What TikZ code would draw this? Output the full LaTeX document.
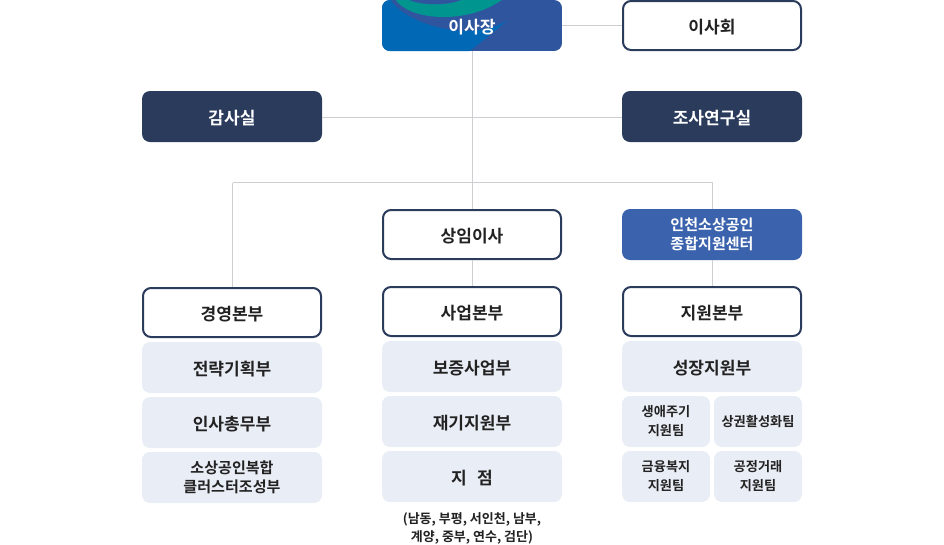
\documentclass[tikz,border=0pt]{standalone}
\usepackage{fontspec}
\setmainfont{Noto Sans CJK KR}[BoldFont={Noto Sans CJK KR Bold}]
\usetikzlibrary{positioning,calc}
\definecolor{navy}{HTML}{2A3B5C}
\definecolor{paleblue}{HTML}{E9EDF5}
\definecolor{midblue}{HTML}{3A62AD}
\definecolor{royal}{HTML}{2F559F}
\definecolor{ocean}{HTML}{0068B5}
\definecolor{teal}{HTML}{00968F}
\definecolor{wire}{HTML}{CCCED1}
\definecolor{ink}{HTML}{222222}
\newcommand{\bigfont}{\fontsize{12.8pt}{16pt}\selectfont\bfseries}
\newcommand{\midfont}{\fontsize{11.3pt}{14.3pt}\selectfont\bfseries}
\newcommand{\smallfont}{\fontsize{9.9pt}{14.2pt}\selectfont\bfseries}
\newcommand{\notefont}{\fontsize{9.75pt}{13.5pt}\selectfont\bfseries}

\begin{document}
\begin{tikzpicture}[x=0.75pt, y=-0.75pt, node distance=3pt,
        box/.style={rectangle, rounded corners=6pt, minimum height=38.25pt, minimum width=135pt, inner sep=0pt, outer sep=0pt, align=center},
        oneline/.style={box, font=\bigfont, text height=12pt, text depth=0pt},
        whitebox/.style={oneline, draw=navy, line width=1.5pt, fill=white, text=ink, minimum height=36.75pt, minimum width=133.5pt, outer sep=0.75pt},
        darkbox/.style={oneline, fill=navy, text=white},
        bluebox/.style={box, fill=midblue, text=white, font=\midfont},
        palebox/.style={oneline, fill=paleblue, text=ink},
        teambox/.style={box, fill=paleblue, text=ink, minimum width=66pt, font=\smallfont},
        wireline/.style={draw=wire, line width=0.75pt}
    ]
        \useasboundingbox (0,0) rectangle (944,544);

        % free points of the bus
        \coordinate (busleft) at (232.5,182.5);
        \coordinate (busright) at (712.5,182.5);

        % top row
        \begin{scope}
            \clip[rounded corners=6pt] (382,0) rectangle (562,51);
            \fill[royal] (382,0) rectangle (562,51);
            \fill[ocean] (382,-1) -- (390,-1) .. controls (405,24) and (470,44) .. (508,20) -- (470,51) -- (382,51) -- cycle;
            \fill[teal] (395,-1) .. controls (410,22) and (470,24) .. (503,-1) -- cycle;
            \fill[royal] (407,-1) .. controls (420,6) and (450,6) .. (463,-1) -- cycle;
        \end{scope}
        \node [oneline, text=white] (chair) at (472,25.5) {이사장};
        \node [whitebox] (board) at (712,25.5) {이사회};

        % second row
        \node [darkbox] (audit) at (232,116.5) {감사실};
        \node [darkbox] (research) at (712,116.5) {조사연구실};

        % third row
        \node [whitebox] (director) at (472,234.5) {상임이사};
        \node [bluebox] (center) at (712,234.5) {인천소상공인\\종합지원센터};

        % left column
        \node [whitebox] (mgmt) at (232,312.5) {경영본부};
        \node [palebox, below=3pt of mgmt] (plan) {전략기획부};
        \node [palebox, below=3pt of plan] (hr) {인사총무부};
        \node [teambox, below=3pt of hr, minimum width=135pt, font=\midfont] (cluster) {소상공인복합\\클러스터조성부};

        % middle column
        \node [whitebox] (biz) at (472,311.5) {사업본부};
        \node [palebox, below=3pt of biz] (guarantee) {보증사업부};
        \node [palebox, below=3pt of guarantee] (restart) {재기지원부};
        \node [palebox, below=3pt of restart] (branch) {지\hspace{0.6em}점};
        \node [below=8pt of branch, inner sep=0pt, align=center, text=ink, font=\notefont] (branches) {(남동, 부평, 서인천, 남부,\\계양, 중부, 연수, 검단)};

        % right column
        \node [whitebox] (support) at (712,311.5) {지원본부};
        \node [palebox, below=3pt of support] (growth) {성장지원부};
        \node [teambox] (life) at (666,421.5) {생애주기\\지원팀};
        \node [teambox] (market) at (758,421.5) {상권활성화팀};
        \node [teambox] (finance) at (666,476.5) {금융복지\\지원팀};
        \node [teambox] (fair) at (758,476.5) {공정거래\\지원팀};

        \draw [wireline] (chair) -- (board);
        \draw [wireline] ([xshift=0.375pt]chair.south) -- ([xshift=0.375pt]director.north);
        \draw [wireline] ([yshift=-0.375pt]audit.east) -- ([yshift=-0.375pt]research.west);
        \draw [wireline] (busleft) -- (busright);
        \draw [wireline] (busleft) -- ([xshift=0.375pt]mgmt.north);
        \draw [wireline] (busright) -- ([xshift=0.375pt]center.north);
        \draw [wireline] ([xshift=0.375pt]director.south) -- ([xshift=0.375pt]biz.north);
        \draw [wireline] ([xshift=0.375pt]center.south) -- ([xshift=0.375pt]support.north);
    \end{tikzpicture}
\end{document}
